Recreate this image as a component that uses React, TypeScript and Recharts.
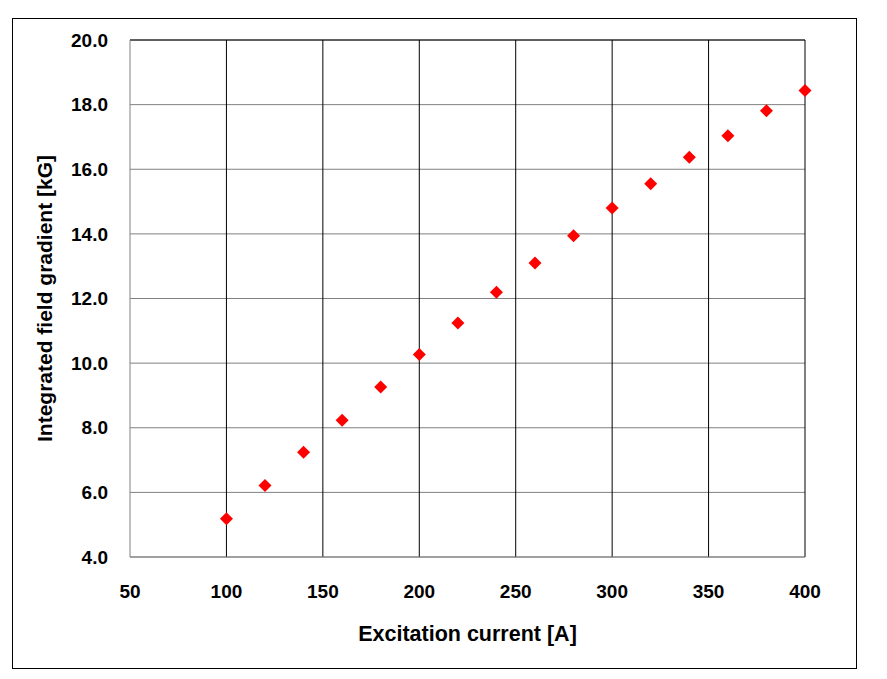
import React from 'react';
import { ScatterChart, Scatter, XAxis, YAxis, CartesianGrid, ReferenceLine, Label } from 'recharts';

const currents = [100, 120, 140, 160, 180, 200, 220, 240, 260, 280, 300, 320, 340, 360, 380, 400];
const gradients = [5.18, 6.21, 7.24, 8.23, 9.26, 10.27, 11.24, 12.19, 13.1, 13.94, 14.8, 15.55, 16.37, 17.04, 17.81, 18.44];
const xTicks = [50, 100, 150, 200, 250, 300, 350, 400];
const yTicks = [4, 6, 8, 10, 12, 14, 16, 18, 20];

const data = currents.map((x, i) => ({ x, y: gradients[i] }));

const FONT = '"Liberation Sans", Arial, sans-serif';

// Excel-style diamond marker
const Diamond = (props: any) => {
  const { cx, cy } = props;
  const r = 6.5;
  return <path d={`M${cx},${cy - r}L${cx + r},${cy}L${cx},${cy + r}L${cx - r},${cy}Z`} fill="#ff0000" />;
};

// black vertical gridlines, but not over the grey left axis
const verticalLines = ({ xAxis, offset }: any) =>
  xTicks.slice(1).map((t) =>
    xAxis && typeof xAxis.scale === 'function'
      ? xAxis.scale(t)
      : offset.left + ((t - xTicks[0]) / (xTicks[xTicks.length - 1] - xTicks[0])) * offset.width
  );

export default function App() {
  return (
    <div style={{ position: 'absolute', left: 0, top: 0, width: 887, height: 679, background: '#fff' }}>
      <div style={{ position: 'absolute', left: 12, top: 18, width: 845, height: 651, border: '1px solid #000', boxSizing: 'border-box' }} />
      <div style={{ position: 'absolute', left: 0, top: 0 }}>
        <ScatterChart width={887} height={679} margin={{ top: 40, right: 82, bottom: 0, left: 0 }}>
          {/* horizontal gridlines are grey, vertical ones black */}
          <CartesianGrid vertical={false} stroke="#808080" />
          <CartesianGrid horizontal={false} stroke="#000" verticalCoordinatesGenerator={verticalLines} />
          <XAxis
            type="number"
            dataKey="x"
            domain={[50, 400]}
            ticks={xTicks}
            height={122}
            tickLine={false}
            tickSize={0}
            tickMargin={28}
            axisLine={{ stroke: '#808080' }}
            tick={{ fill: '#000', fontSize: 19, fontWeight: 'bold', fontFamily: FONT }}
          >
            <Label
              value="Excitation current [A]"
              position="insideBottom"
              offset={38}
              style={{ fill: '#000', fontSize: 21.5, fontWeight: 'bold', fontFamily: FONT }}
            />
          </XAxis>
          <YAxis
            type="number"
            dataKey="y"
            domain={[4, 20]}
            ticks={yTicks}
            width={130}
            tickLine={false}
            tickSize={0}
            tickMargin={22}
            axisLine={{ stroke: '#808080' }}
            tickFormatter={(v: number) => v.toFixed(1)}
            tick={{ fill: '#000', fontSize: 19, fontWeight: 'bold', fontFamily: FONT }}
          >
            <Label
              content={(p: any) => {
                const vb = p.viewBox || {};
                const cy = (vb.y || 0) + (vb.height || 0) / 2;
                return (
                  <text
                    x={52}
                    y={cy}
                    transform={`rotate(-90, 52, ${cy})`}
                    textAnchor="middle"
                    style={{ fill: '#000', fontSize: 21, fontWeight: 'bold', fontFamily: FONT }}
                  >
                    Integrated field gradient [kG]
                  </text>
                );
              }}
            />
          </YAxis>
          <ReferenceLine y={20} stroke="#000" />
          <Scatter data={data} shape={<Diamond />} isAnimationActive={false} />
        </ScatterChart>
      </div>
    </div>
  );
}
